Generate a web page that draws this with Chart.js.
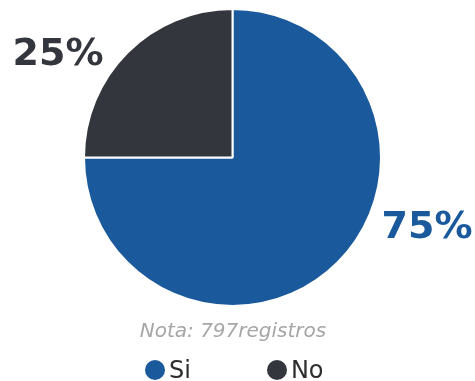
<!DOCTYPE html>
<html>
<head>
<meta charset="utf-8">
<script src="https://cdn.jsdelivr.net/npm/chart.js@4.4.1/dist/chart.umd.min.js"></script>
<style>
  html, body { margin: 0; padding: 0; background: #fff; }
  #wrap { position: relative; width: 475px; height: 381px; }
  #note {
    position: absolute; left: 0; width: 466px; top: 318px; text-align: center;
    font-family: "DejaVu Sans", sans-serif; font-style: italic; font-size: 20px; color: #a6a6a6;
  }
  #legend {
    position: absolute; top: 356px; left: 145px; display: flex; align-items: center;
    font-family: "DejaVu Sans", sans-serif; font-size: 24px; color: #2e2e2e;
  }
  .item { display: flex; align-items: center; }
  .dot { width: 20px; height: 20px; border-radius: 50%; margin-right: 4px; }
</style>
</head>
<body>
<div id="wrap">
  <canvas id="pie" width="475" height="381"></canvas>
  <div id="note"></div>
  <div id="legend"></div>
</div>
<script>
// data
const categories = ["Si", "No"];
const values = [75, 25];
const colors = ["#1a5a9c", "#33363d"];
const noteText = "Nota: 797registros";

document.getElementById("note").textContent = noteText;

// legend
const legend = document.getElementById("legend");
categories.forEach((name, i) => {
    const item = document.createElement("div");
    item.className = "item";
    item.style.marginRight = i === 0 ? "76px" : "0";
    item.innerHTML = `<span class="dot" style="background:${colors[i]}"></span><span>${name}</span>`;
    legend.appendChild(item);
});

// percent labels next to the slices
const percentLabels = {
    id: "percentLabels",
    afterDatasetsDraw(chart, args, opts) {
        const ctx = chart.ctx;
        const total = values.reduce((a, b) => a + b, 0);
        chart.getDatasetMeta(0).data.forEach((arc, i) => {
            const mid = (arc.startAngle + arc.endAngle) / 2;
            const px = arc.x + Math.cos(mid) * arc.outerRadius;
            const py = arc.y + Math.sin(mid) * arc.outerRadius;
            const off = opts.offsets[i];
            ctx.save();
            ctx.font = "bold 38px 'DejaVu Sans', sans-serif";
            ctx.fillStyle = colors[i];
            ctx.textAlign = off.align;
            ctx.textBaseline = "middle";
            ctx.fillText(Math.round(values[i] / total * 100) + "%", px + off.dx, py + off.dy);
            ctx.restore();
        });
    }
};

new Chart(document.getElementById("pie").getContext("2d"), {
    type: "pie",
    data: {
        labels: categories,
        datasets: [{
            data: values,
            backgroundColor: colors,
            borderColor: "#ffffff",
            borderWidth: 2
        }]
    },
    options: {
        responsive: false,
        animation: false,
        layout: { padding: { top: 8, bottom: 74, left: 83, right: 93 } },
        plugins: {
            legend: { display: false },
            tooltip: { enabled: false },
            percentLabels: {
                offsets: [
                    { dx: 44, dy: -34, align: "left" },
                    { dx: -24, dy: 3, align: "right" }
                ]
            }
        }
    },
    plugins: [percentLabels]
});
</script>
</body>
</html>
